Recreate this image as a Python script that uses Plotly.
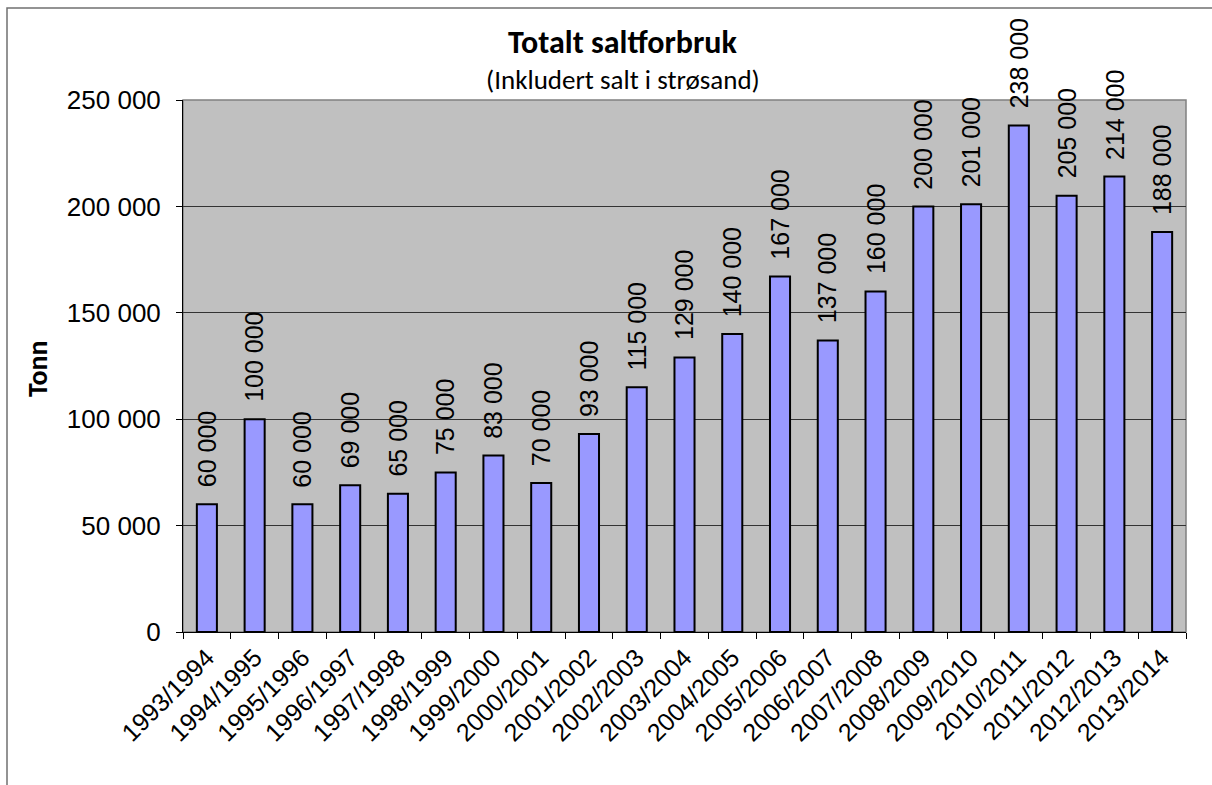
import plotly.graph_objects as go

seasons = ["1993/1994", "1994/1995", "1995/1996", "1996/1997", "1997/1998", "1998/1999",
           "1999/2000", "2000/2001", "2001/2002", "2002/2003", "2003/2004", "2004/2005",
           "2005/2006", "2006/2007", "2007/2008", "2008/2009", "2009/2010", "2010/2011",
           "2011/2012", "2012/2013", "2013/2014"]
tonn = [60000, 100000, 60000, 69000, 65000, 75000, 83000, 70000, 93000, 115000, 129000,
        140000, 167000, 137000, 160000, 200000, 201000, 238000, 205000, 214000, 188000]
ytick_vals = [0, 50000, 100000, 150000, 200000, 250000]

def fmt(v):
    return f"{v:,}".replace(",", " ")

ARIAL = "Liberation Sans, Arial, sans-serif"
CALIBRI = "Carlito, Lato, sans-serif"

fig = go.Figure()
fig.add_trace(go.Bar(
    x=seasons, y=tonn,
    marker=dict(color="#9999FF", line=dict(color="black", width=2)),
    hoverinfo="x+y",
))

L, R, T, B = 183, 26, 100, 153
W, H = 1212, 785
pw, ph = W - L - R, H - T - B

annotations = [
    dict(x=s, y=v, xref="x", yref="y", text=fmt(v), textangle=-90,
         showarrow=False, xanchor="center", yanchor="bottom", yshift=15,
         font=dict(family=ARIAL, size=25, color="black"))
    for s, v in zip(seasons, tonn)
]
annotations += [
    dict(text="<b>Totalt saltforbruk</b>", xref="paper", yref="paper",
         x=(623 - L) / pw, y=(H - B - 43) / ph, showarrow=False,
         font=dict(family=CALIBRI, size=32), xanchor="center", yanchor="middle"),
    dict(text="(Inkludert salt i strøsand)", xref="paper", yref="paper",
         x=(623 - L) / pw, y=(H - B - 79) / ph, showarrow=False,
         font=dict(family=CALIBRI, size=27), xanchor="center", yanchor="middle"),
    dict(text="<b>Tonn</b>", xref="paper", yref="paper", textangle=-90,
         x=(37 - L) / pw, y=(H - B - 369) / ph, showarrow=False,
         font=dict(family=CALIBRI, size=28), xanchor="center", yanchor="middle"),
]

fig.update_layout(
    width=W, height=H,
    margin=dict(l=L, r=R, t=T, b=B),
    paper_bgcolor="white", plot_bgcolor="#C0C0C0",
    bargap=0.58, showlegend=False,
    font=dict(family=ARIAL, color="black"),
    xaxis=dict(
        type="category", tickmode="linear", dtick=1, tick0=0,
        tickangle=-45, tickson="boundaries",
        ticks="outside", ticklen=6, tickcolor="black", tickwidth=1,
        tickfont=dict(size=25), showgrid=False,
        showline=True, linecolor="black", linewidth=1,
    ),
    yaxis=dict(
        range=[0, 250000], tickmode="array", tickvals=ytick_vals,
        ticktext=[fmt(v) for v in ytick_vals],
        ticks="outside", ticklen=6, tickcolor="black", tickwidth=1,
        tickfont=dict(size=26), ticklabelstandoff=10,
        showgrid=True, gridcolor="#333333", gridwidth=1,
        showline=True, linecolor="black", linewidth=1,
        zeroline=False,
    ),
    annotations=annotations,
    shapes=[
        dict(type="rect", xref="paper", yref="paper",
             x0=0, x1=1, y0=0, y1=1,
             line=dict(color="#808080", width=1.5), layer="below"),
        dict(type="rect", xref="paper", yref="paper",
             x0=(7 - L) / pw, x1=1.2, y0=-0.5, y1=(H - B - 8) / ph,
             line=dict(color="#707070", width=1.5), layer="below"),
    ],
)

fig.write_html("out.html", config={"displayModeBar": False},
               post_script="document.body.style.margin='0';")
